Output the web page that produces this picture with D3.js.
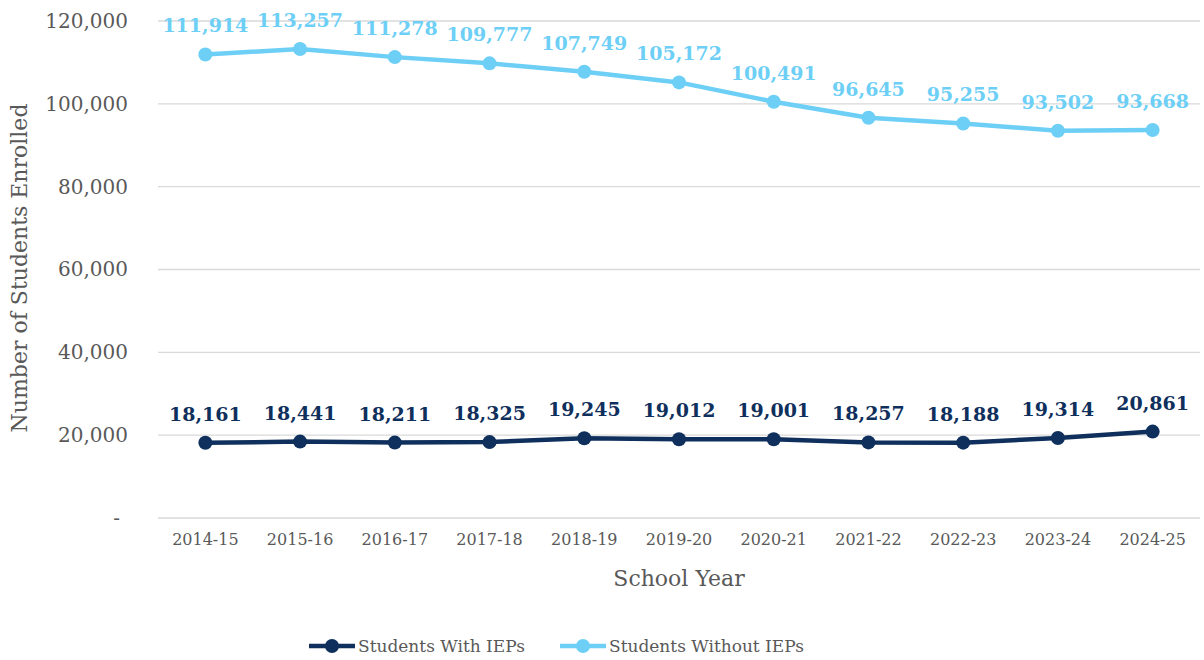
<!DOCTYPE html>
<html>
<head>
<meta charset="utf-8">
<script src="https://cdn.jsdelivr.net/npm/d3@7"></script>
<style>
  body { margin: 0; background: #fff; }
  svg text { font-family: "DejaVu Serif", "Liberation Serif", serif; }
</style>
</head>
<body>
<div id="chart"></div>
<script>
// data
var years = ["2014-15","2015-16","2016-17","2017-18","2018-19","2019-20","2020-21","2021-22","2022-23","2023-24","2024-25"];
var withIEP = [18161, 18441, 18211, 18325, 19245, 19012, 19001, 18257, 18188, 19314, 20861];
var withoutIEP = [111914, 113257, 111278, 109777, 107749, 105172, 100491, 96645, 95255, 93502, 93668];
var yTicks = [0, 20000, 40000, 60000, 80000, 100000, 120000];
var seriesNames = ["Students With IEPs", "Students Without IEPs"];
var seriesColors = ["#0f2f5c", "#6dcff6"];

var width = 1204, height = 660;
var margin = {left: 158, right: 4, top: 21, bottom: 142};

var svg = d3.select("#chart").append("svg")
    .attr("width", width)
    .attr("height", height);

var x = d3.scaleBand()
    .domain(years)
    .range([margin.left, width - margin.right]);

var y = d3.scaleLinear()
    .domain([0, 120000])
    .range([height - margin.bottom, margin.top]);

var fmt = d3.format(",");

// y axis + grid
var yAxis = d3.axisLeft(y)
    .tickValues(yTicks)
    .tickSize(0)
    .tickPadding(30)
    .tickFormat(function(d) { return d === 0 ? "-" : fmt(d); });

var gy = svg.append("g")
    .attr("transform", "translate(" + margin.left + ",0)")
    .call(yAxis);
gy.select(".domain").remove();
gy.selectAll("text")
    .attr("fill", "#595959")
    .style("font-size", "20px");
gy.selectAll("g.tick text").filter(function(d) { return d === 0; })
    .attr("dx", -8);

svg.append("g").selectAll("line")
    .data(yTicks)
    .join("line")
    .attr("x1", margin.left)
    .attr("x2", width - margin.right)
    .attr("y1", function(d) { return y(d); })
    .attr("y2", function(d) { return y(d); })
    .attr("stroke", "#d9d9d9")
    .attr("stroke-width", 1.3);

// x axis
var xAxis = d3.axisBottom(x).tickSize(0).tickPadding(16);
var gx = svg.append("g")
    .attr("transform", "translate(0," + y(0) + ")")
    .call(xAxis);
gx.select(".domain").remove();
gx.selectAll("text")
    .attr("fill", "#595959")
    .style("font-size", "16px");

// axis titles
svg.append("text")
    .attr("x", (margin.left + width - margin.right) / 2)
    .attr("y", 586)
    .attr("text-anchor", "middle")
    .attr("fill", "#595959")
    .style("font-size", "22px")
    .text("School Year");

svg.append("text")
    .attr("transform", "translate(27," + 268 + ") rotate(-90)")
    .attr("text-anchor", "middle")
    .attr("fill", "#595959")
    .style("font-size", "22px")
    .text("Number of Students Enrolled");

// lines
var line = d3.line()
    .x(function(d, i) { return x(years[i]) + x.bandwidth() / 2; })
    .y(function(d) { return y(d); });

[withIEP, withoutIEP].forEach(function(vals, s) {
  var g = svg.append("g");
  g.append("path")
      .datum(vals)
      .attr("d", line)
      .attr("fill", "none")
      .attr("stroke", seriesColors[s])
      .attr("stroke-width", 4.5);
  g.selectAll("circle")
      .data(vals)
      .join("circle")
      .attr("cx", function(d, i) { return x(years[i]) + x.bandwidth() / 2; })
      .attr("cy", function(d) { return y(d); })
      .attr("r", 7)
      .attr("fill", seriesColors[s]);
  g.selectAll("text")
      .data(vals)
      .join("text")
      .attr("x", function(d, i) { return x(years[i]) + x.bandwidth() / 2; })
      .attr("y", function(d) { return y(d) - 22; })
      .attr("text-anchor", "middle")
      .attr("fill", seriesColors[s])
      .style("font-size", "19px")
      .style("font-weight", "bold")
      .text(function(d) { return fmt(d); });
});

// legend
var legend = svg.append("g").attr("transform", "translate(309,646)");
var legX = [0, 251];
seriesNames.forEach(function(name, s) {
  var lg = legend.append("g").attr("transform", "translate(" + legX[s] + ",0)");
  lg.append("line")
      .attr("x1", 0).attr("x2", 46)
      .attr("stroke", seriesColors[s])
      .attr("stroke-width", 4.5);
  lg.append("circle")
      .attr("cx", 23).attr("r", 7)
      .attr("fill", seriesColors[s]);
  lg.append("text")
      .attr("x", 49)
      .attr("dy", "0.35em")
      .attr("fill", "#595959")
      .style("font-size", "17px")
      .text(name);
});
</script>
</body>
</html>
